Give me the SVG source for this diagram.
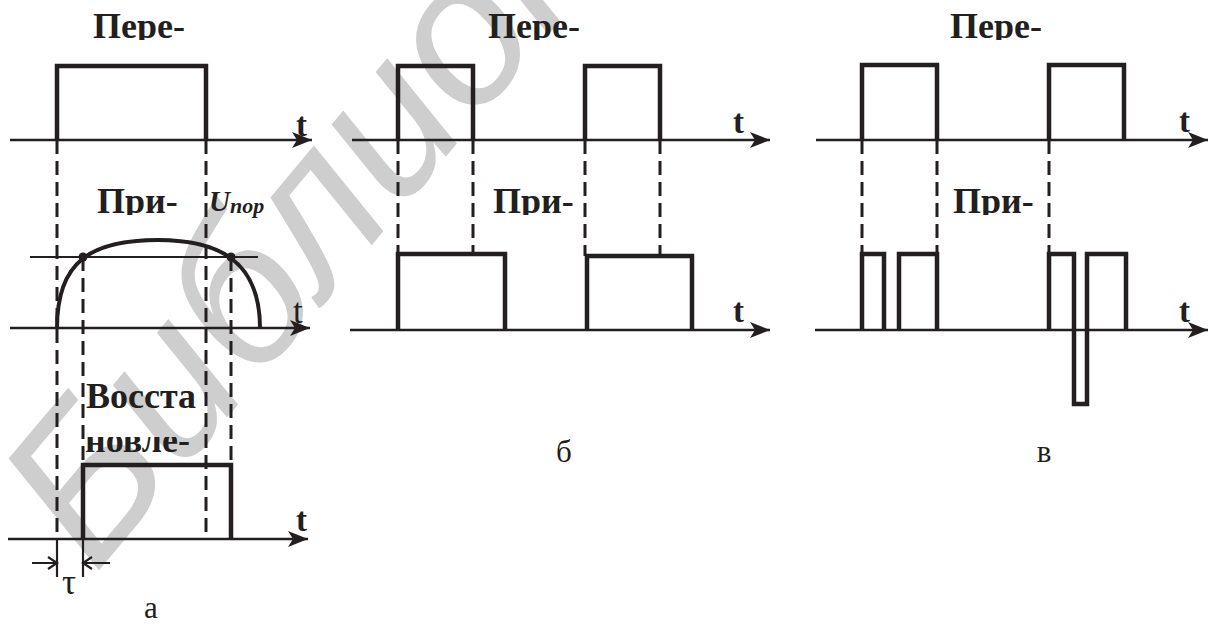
<svg xmlns="http://www.w3.org/2000/svg" width="1210" height="629" viewBox="0 0 1210 629">
<defs>
<style>
.ax{fill:none;stroke:#231f20;stroke-width:2.5}
.pl{fill:none;stroke:#231f20;stroke-width:4.5;stroke-linejoin:miter}
.ds{fill:none;stroke:#231f20;stroke-width:3;stroke-dasharray:14 7}
.thin{fill:none;stroke:#231f20;stroke-width:2.2}
.hd{font-family:"Liberation Serif","Times New Roman",serif;font-weight:bold;font-size:36px;fill:#231f20}
.tb{font-family:"Liberation Serif","Times New Roman",serif;font-weight:bold;font-size:33px;fill:#231f20}
.tr{font-family:"Liberation Serif","Times New Roman",serif;font-size:35px;fill:#231f20}
.lb{font-family:"Liberation Serif","Times New Roman",serif;font-size:31px;fill:#231f20}
.wm{font-family:"Liberation Sans",Arial,sans-serif;font-style:italic;font-size:205px;fill:#cecece}
</style>
<marker id="arr" viewBox="0 0 20 16" refX="20" refY="8" markerWidth="20" markerHeight="16" markerUnits="userSpaceOnUse" orient="auto">
<path d="M0,0 L20,8 L0,16 L5,8 Z" fill="#231f20"/>
</marker>
<clipPath id="cTop"><rect x="0" y="0" width="1210" height="40"/></clipPath>
<clipPath id="cMid"><rect x="0" y="170" width="1210" height="45"/></clipPath>
<clipPath id="cNov"><rect x="0" y="437" width="400" height="20"/></clipPath>
</defs>
<rect width="1210" height="629" fill="#ffffff"/>
<g id="watermark">
<text class="wm" x="95" y="575" transform="rotate(-50 95 575)">Библиотека</text>
</g>
<g id="connectors">
<line class="ax" x1="10" y1="140" x2="312" y2="140" marker-end="url(#arr)"/>
<line class="ax" x1="10" y1="328" x2="310" y2="328" marker-end="url(#arr)"/>
<line class="ax" x1="8" y1="539" x2="308" y2="539" marker-end="url(#arr)"/>
<line class="ds" x1="57" y1="140" x2="57" y2="539"/>
<line class="ds" x1="206" y1="140" x2="206" y2="539"/>
<line class="ds" x1="83" y1="257" x2="83" y2="465"/>
<line class="ds" x1="231" y1="257" x2="231" y2="465"/>
<line class="thin" x1="57" y1="539" x2="57" y2="577"/>
<line class="thin" x1="83" y1="539" x2="83" y2="577"/>
<path class="thin" d="M32,563 H57 M48,557 L57,563 L48,569"/>
<path class="thin" d="M110,563 H83 M92,557 L83,563 L92,569"/>
<line class="ax" x1="352" y1="140" x2="770" y2="140" marker-end="url(#arr)"/>
<line class="ax" x1="350" y1="330" x2="770" y2="330" marker-end="url(#arr)"/>
<line class="ds" x1="398" y1="140" x2="398" y2="254"/>
<line class="ds" x1="473" y1="140" x2="473" y2="254"/>
<line class="ds" x1="585" y1="140" x2="585" y2="256"/>
<line class="ds" x1="660" y1="140" x2="660" y2="256"/>
<line class="ax" x1="816" y1="140" x2="1208" y2="140" marker-end="url(#arr)"/>
<line class="ax" x1="815" y1="330" x2="1208" y2="330" marker-end="url(#arr)"/>
<line class="ds" x1="862" y1="140" x2="862" y2="254"/>
<line class="ds" x1="937" y1="140" x2="937" y2="254"/>
<line class="ds" x1="1049" y1="140" x2="1049" y2="254"/>
</g>
<g id="panel-a">
<text class="hd" x="93" y="38" clip-path="url(#cTop)">Пере-</text>
<path class="pl" d="M57,140 V66 H206 V140"/>
<text class="tb" x="296" y="136">t</text>
<text class="hd" x="97" y="213" clip-path="url(#cMid)">При-</text>
<text x="209" y="211" font-family="Liberation Serif,Times New Roman,serif" font-weight="bold" font-style="italic" fill="#231f20"><tspan font-size="29">U</tspan><tspan font-size="22" dy="2">пор</tspan></text>
<line class="thin" x1="30" y1="257" x2="258" y2="257"/>
<path fill="none" stroke="#231f20" stroke-width="4" d="M57,328 C57,262 90,240 158,240 C215,240 260,258 260,328"/>
<circle cx="83" cy="257" r="4.5" fill="#231f20"/>
<circle cx="231" cy="257" r="4.5" fill="#231f20"/>
<text class="tr" x="293" y="323">t</text>
<text class="hd" x="86" y="408">Восста</text>
<text class="hd" x="85" y="452" clip-path="url(#cNov)">новле-</text>
<path class="pl" d="M83,539 V465 H231 V539"/>
<text class="tb" x="296" y="531">t</text>
<text class="tr" x="62" y="594">τ</text>
<text class="lb" x="151" y="618" text-anchor="middle">а</text>
</g>
<g id="panel-b">
<text class="hd" x="488" y="38" clip-path="url(#cTop)">Пере-</text>
<path class="pl" d="M398,140 V66 H473 V140"/>
<path class="pl" d="M585,140 V66 H660 V140"/>
<text class="tb" x="733" y="133">t</text>
<text class="hd" x="493" y="213" clip-path="url(#cMid)">При-</text>
<path class="pl" d="M398,330 V254 H505 V330"/>
<path class="pl" d="M587,330 V256 H692 V330"/>
<text class="tb" x="733" y="322">t</text>
<text class="lb" x="564" y="462" text-anchor="middle">б</text>
</g>
<g id="panel-c">
<text class="hd" x="950" y="38" clip-path="url(#cTop)">Пере-</text>
<path class="pl" d="M862,140 V65 H937 V140"/>
<path class="pl" d="M1049,140 V65 H1124 V140"/>
<text class="tb" x="1179" y="132">t</text>
<text class="hd" x="953" y="213" clip-path="url(#cMid)">При-</text>
<path class="pl" d="M862,330 V254 H884 V330"/>
<path class="pl" d="M899,330 V254 H937 V330"/>
<path class="pl" d="M1049,330 V254 H1074 V404 H1087 V254 H1126 V330"/>
<text class="tb" x="1179" y="322">t</text>
<text class="lb" x="1044" y="462" text-anchor="middle">в</text>
</g>
</svg>
